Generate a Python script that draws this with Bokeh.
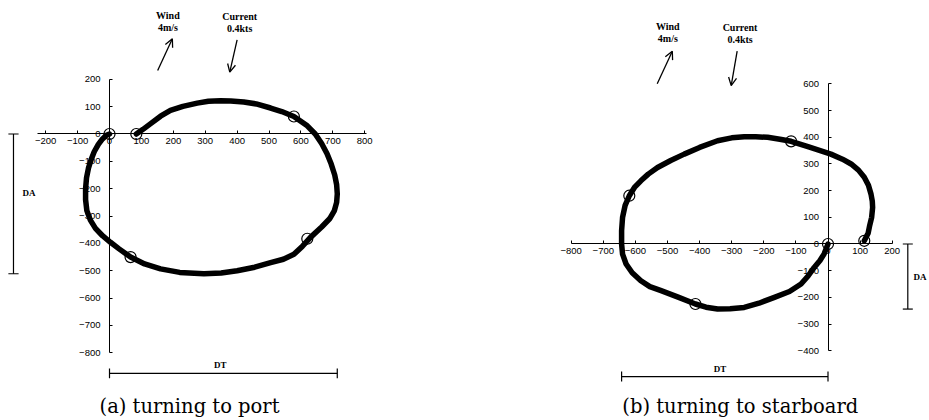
from bokeh.plotting import figure
from bokeh.layouts import row
from bokeh.models import LinearAxis, FixedTicker, Arrow, OpenHead, Range1d
from bokeh.core.properties import value
from bokeh.embed import file_html
from bokeh.resources import INLINE

# ---------------- data ----------------
# (a) turning to port : trajectory (m)
port_x = [0, -10, -22, -35, -48, -58, -66, -72, -75, -75, -71, -60, -44, -22, 3, 30, 66, 110, 160, 220,
          296, 350, 400, 455, 505, 545, 578, 605, 630, 665, 690, 705, 712, 714, 712, 706, 695, 682, 665,
          645, 620, 578, 540, 505, 460, 421, 380, 348, 310, 275, 230, 191, 160, 128, 105, 84]
port_y = [0, -5, -18, -38, -65, -95, -125, -160, -200, -240, -280, -315, -345, -372, -396, -420, -450,
          -475, -493, -506, -511, -508, -500, -487, -470, -458, -440, -410, -378, -340, -310, -280, -250,
          -219, -185, -150, -110, -72, -35, 0, 30, 64, 82, 95, 110, 117, 121, 122, 120, 113, 101, 86, 65,
          37, 17, 0]
port_mark_x = [0, 84, 578, 620, 66]
port_mark_y = [0, 0, 64, -383, -450]
port_xticks = [-200, -100, 0, 100, 200, 300, 400, 500, 600, 700, 800]
port_yticks = [-800, -700, -600, -500, -400, -300, -200, -100, 0, 100, 200]

# (b) turning to starboard : trajectory (m)
stbd_x = [0, -12, -25, -43, -62, -84, -120, -167, -215, -261, -305, -344, -380, -413, -465, -520, -555,
          -583, -610, -629, -640, -643, -643, -640, -632, -619, -603, -583, -560, -531, -490, -448, -400,
          -344, -300, -261, -225, -188, -150, -115, -60, 9, 45, 72, 95, 113, 126, 134, 138, 139, 136, 130,
          125, 113]
stbd_y = [0, -37, -62, -88, -120, -150, -178, -200, -222, -238, -243, -244, -237, -225, -200, -175, -160,
          -138, -108, -75, -38, 0, 50, 100, 145, 181, 212, 237, 262, 287, 313, 337, 362, 387, 398, 402, 402,
          400, 393, 385, 364, 337, 318, 300, 277, 250, 220, 187, 160, 137, 100, 70, 40, 12]
stbd_mark_x = [0, 113, -115, -619, -413]
stbd_mark_y = [0, 12, 385, 181, -225]
stbd_xticks = [-800, -700, -600, -500, -400, -300, -200, -100, 0, 100, 200]
stbd_yticks = [-400, -300, -200, -100, 0, 100, 200, 300, 400, 500, 600]

wind_text = ["Wind", "4m/s"]
current_text = ["Current", "0.4kts"]
captions = ["(a) turning to port", "(b) turning to starboard"]

TICK_FONT = "Liberation Sans"
NOTE_FONT = value("Liberation Serif")
CAP_FONT = value("DejaVu Serif")


def base_fig(w, h, xr, yr):
    p = figure(width=w, height=h, x_range=Range1d(*xr), y_range=Range1d(*yr),
               output_backend="svg", toolbar_location=None,
               x_axis_type=None, y_axis_type=None, min_border=0)
    p.min_border_left = p.min_border_right = p.min_border_top = p.min_border_bottom = 0
    p.outline_line_color = None
    p.background_fill_color = "white"
    p.border_fill_color = "white"
    return p


def add_axes(p, xticks, yticks, xbounds, ybounds):
    xa = LinearAxis(fixed_location=0, ticker=FixedTicker(ticks=xticks), bounds=xbounds)
    ya = LinearAxis(fixed_location=0, ticker=FixedTicker(ticks=yticks), bounds=ybounds)
    for a in (xa, ya):
        a.axis_line_color = "black"
        a.axis_line_width = 1
        a.major_tick_in = 3
        a.major_tick_out = 0
        a.major_tick_line_color = "black"
        a.minor_tick_line_color = None
        a.major_label_text_font = TICK_FONT
        a.major_label_text_font_size = "9.5px"
        a.major_label_text_color = "black"
    xa.major_label_standoff = 4
    ya.major_label_standoff = 9
    p.add_layout(xa, "below")
    p.add_layout(ya, "left")


def draw_track(p, xs, ys, mx, my):
    p.line(xs, ys, line_color="black", line_width=5.5, line_join="round", line_cap="round")
    p.scatter(mx, my, marker="circle", size=11, fill_color=None,
              line_color="black", line_width=1.2)


def notes(p, wx, wy, cx, cy, warrow, carrow):
    p.text(x=[wx, wx], y=wy, text=wind_text, text_font=NOTE_FONT, text_font_style="bold",
           text_font_size="10px", text_align="center", text_baseline="middle", text_color="black")
    p.text(x=[cx, cx], y=cy, text=current_text, text_font=NOTE_FONT, text_font_style="bold",
           text_font_size="10px", text_align="center", text_baseline="middle", text_color="black")
    for (x0, y0, x1, y1) in (warrow, carrow):
        p.add_layout(Arrow(end=OpenHead(size=8, line_width=1.3, line_color="black"),
                           x_start=x0, y_start=y0, x_end=x1, y_end=y1,
                           line_width=1.3, line_color="black"))


# ---------------- (a) port ----------------
p1 = base_fig(478, 420, (-341.7, 1156.7), (-1047.5, 488.1))
add_axes(p1, port_xticks, port_yticks, (-225, 805), (-800, 200))
draw_track(p1, port_x, port_y, port_mark_x, port_mark_y)
notes(p1, 183, [433, 389], 408, [428, 386], (151, 232, 197, 348), (400, 344, 377, 226))

# DA bracket (advance)
da1 = min(port_y)
dax1 = -301
p1.segment(x0=[dax1, dax1 - 16, dax1 - 16], y0=[0, 0, da1], x1=[dax1, dax1 + 16, dax1 + 16], y1=[da1, 0, da1],
           line_color="black", line_width=1.2)
p1.text(x=[-273], y=[-214], text=["DA"], text_font=NOTE_FONT, text_font_style="bold",
        text_font_size="9px", text_align="left", text_baseline="middle", text_color="black")
# DT bracket (tactical diameter)
dt1 = max(port_x)
dty1 = -875
p1.segment(x0=[0, 0, dt1], y0=[dty1, dty1 - 18, dty1 - 18], x1=[dt1, 0, dt1], y1=[dty1, dty1 + 18, dty1 + 18],
           line_color="black", line_width=1.2)
p1.text(x=[dt1 / 2 - 10], y=[dty1 + 11], text=["DT"], text_font=NOTE_FONT, text_font_style="bold",
        text_font_size="9px", text_align="center", text_baseline="bottom", text_color="black")
p1.text(x=[250.8], y=[-996], text=[captions[0]], text_font=CAP_FONT, text_font_size="19.5px",
        text_align="center", text_baseline="alphabetic", text_color="black")

# ---------------- (b) starboard ----------------
p2 = base_fig(451, 420, (-1088.8, 316.2), (-661.8, 913.0))
add_axes(p2, stbd_xticks, stbd_yticks, (-800, 200), (-400, 600))
draw_track(p2, stbd_x, stbd_y, stbd_mark_x, stbd_mark_y)
notes(p2, -499, [815.5, 771.6], -274, [811.8, 768.0], (-532, 600.7, -485, 723), (-283, 723, -301.6, 594))

da2 = min(stbd_y)
dax2 = 248.6
p2.segment(x0=[dax2, dax2 - 15.6, dax2 - 15.6], y0=[0, 0, da2], x1=[dax2, dax2 + 15.6, dax2 + 15.6], y1=[da2, 0, da2],
           line_color="black", line_width=1.2)
p2.text(x=[266], y=[da2 / 2], text=["DA"], text_font=NOTE_FONT, text_font_style="bold",
        text_font_size="9px", text_align="left", text_baseline="middle", text_color="black")
dt2 = min(stbd_x)
dty2 = -497
p2.segment(x0=[dt2, dt2, 0], y0=[dty2, dty2 - 18.7, dty2 - 18.7], x1=[0, dt2, 0], y1=[dty2, dty2 + 18.7, dty2 + 18.7],
           line_color="black", line_width=1.2)
p2.text(x=[dt2 / 2 - 15], y=[dty2 + 11], text=["DT"], text_font=NOTE_FONT, text_font_style="bold",
        text_font_size="9px", text_align="center", text_baseline="bottom", text_color="black")
p2.text(x=[-273.2], y=[-609], text=[captions[1]], text_font=CAP_FONT, text_font_size="19.5px",
        text_align="center", text_baseline="alphabetic", text_color="black")

layout = row(p1, p2)
open("out.html", "w").write(file_html(layout, INLINE))
